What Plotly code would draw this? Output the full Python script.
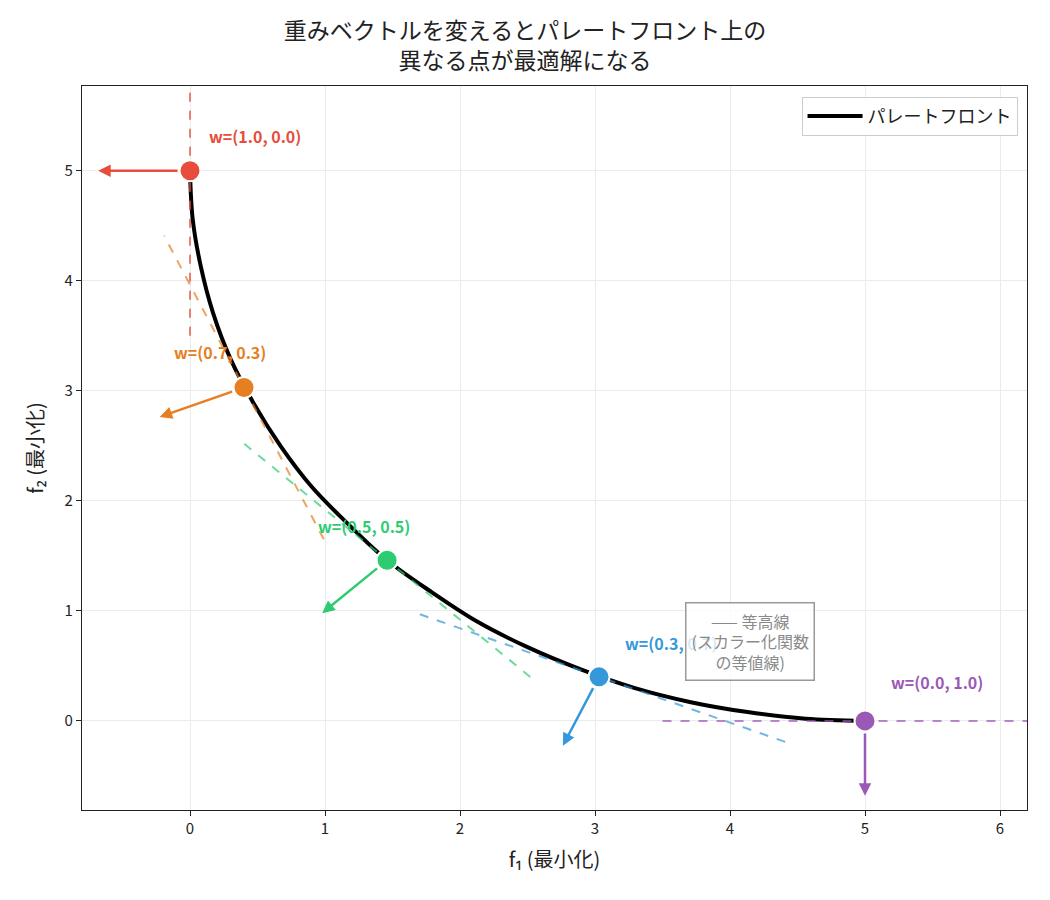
import plotly.graph_objects as go

# Pareto front
front_f1 = [0.00, 0.02, 0.08, 0.17, 0.30, 0.47, 0.67, 0.90, 1.17, 1.46, 1.79, 2.13, 2.50, 2.89, 3.29, 3.71, 4.13, 4.56, 5.00]
front_f2 = [5.00, 4.56, 4.13, 3.71, 3.29, 2.89, 2.50, 2.13, 1.79, 1.46, 1.17, 0.90, 0.67, 0.47, 0.30, 0.17, 0.08, 0.02, 0.00]

# Optimal points for each weight vector
opt_f1 = [0.00, 0.40, 1.46, 3.03, 5.00]
opt_f2 = [5.00, 3.03, 1.46, 0.40, 0.00]
w1 = [1.0, 0.7, 0.5, 0.3, 0.0]
w2 = [0.0, 0.3, 0.5, 0.7, 1.0]
labels = ["w=(1.0, 0.0)", "w=(0.7, 0.3)", "w=(0.5, 0.5)", "w=(0.3, 0.7)", "w=(0.0, 1.0)"]

colors = ["#e74c3c", "#e67e22", "#2ecc71", "#3498db", "#9b59b6"]
label_dx = [0.48, -0.18, -0.17, 0.53, 0.53]
label_dy = [0.32, 0.32, 0.31, 0.31, 0.35]
ARROW_LEN = 0.68
CONTOUR_HALF = 1.5

font_family = "Noto Sans CJK JP, Noto Sans, sans-serif"

fig = go.Figure()

fig.add_trace(go.Scatter(
    x=front_f1, y=front_f2, mode="lines", line=dict(color="black", width=4, shape="spline"),
    name="パレートフロント", showlegend=True))

annotations = []
for i in range(len(opt_f1)):
    n = (w1[i] ** 2 + w2[i] ** 2) ** 0.5
    ux, uy = w1[i] / n, w2[i] / n
    tx, ty = -uy, ux
    fig.add_trace(go.Scatter(
        x=[opt_f1[i] - CONTOUR_HALF * tx, opt_f1[i] + CONTOUR_HALF * tx],
        y=[opt_f2[i] - CONTOUR_HALF * ty, opt_f2[i] + CONTOUR_HALF * ty],
        mode="lines", line=dict(color=colors[i], width=2, dash="dash"),
        opacity=0.7, showlegend=False, hoverinfo="skip"))

for i in range(len(opt_f1)):
    fig.add_trace(go.Scatter(
        x=[opt_f1[i]], y=[opt_f2[i]], mode="markers",
        marker=dict(size=21, color=colors[i], line=dict(color="white", width=2)),
        showlegend=False))
    n = (w1[i] ** 2 + w2[i] ** 2) ** 0.5
    ux, uy = w1[i] / n, w2[i] / n
    annotations.append(dict(
        x=opt_f1[i] - ARROW_LEN * ux, y=opt_f2[i] - ARROW_LEN * uy,
        ax=opt_f1[i], ay=opt_f2[i], xref="x", yref="y", axref="x", ayref="y",
        showarrow=True, arrowhead=2, arrowsize=1.0, arrowwidth=2.5, arrowcolor=colors[i],
        startstandoff=11, text=""))
    annotations.append(dict(
        x=opt_f1[i] + label_dx[i], y=opt_f2[i] + label_dy[i], xref="x", yref="y",
        text="<b>" + labels[i] + "</b>", showarrow=False,
        font=dict(size=16, color=colors[i], family=font_family)))

annotations.append(dict(
    x=4.15, y=0.72, xref="x", yref="y", showarrow=False,
    text="—— 等高線<br>(スカラー化関数<br>の等値線)",
    font=dict(size=16, color="#8a8a8a", family=font_family),
    bgcolor="rgba(255,255,255,0.8)", bordercolor="#999999", borderwidth=1.5, borderpad=5,
    align="center"))

fig.update_layout(
    width=1050, height=900,
    margin=dict(l=82, r=23, t=86, b=90),
    paper_bgcolor="white", plot_bgcolor="white",
    font=dict(family=font_family, size=15, color="#222222"),
    title=dict(text="重みベクトルを変えるとパレートフロント上の<br>異なる点が最適解になる",
               x=0.5, xanchor="center", yref="container", y=1 - 39 / 900, yanchor="middle",
               font=dict(size=23, color="#222222")),
    legend=dict(x=0.99, y=0.985, xanchor="right", yanchor="top",
                bgcolor="rgba(255,255,255,0.9)", bordercolor="#cccccc", borderwidth=1,
                itemwidth=55, font=dict(size=18)),
    annotations=annotations,
)
fig.update_xaxes(range=[-0.8, 6.2], tickvals=[0, 1, 2, 3, 4, 5, 6],
                 showgrid=True, gridcolor="#ebebeb", zeroline=False,
                 showline=True, linecolor="#222222", linewidth=1.2, mirror=True,
                 ticks="outside", ticklen=5, tickcolor="#222222",
                 title=dict(text="f₁ (最小化)", font=dict(size=20)))
fig.update_yaxes(range=[-0.81, 5.77], tickvals=[0, 1, 2, 3, 4, 5],
                 showgrid=True, gridcolor="#ebebeb", zeroline=False,
                 showline=True, linecolor="#222222", linewidth=1.2, mirror=True,
                 ticks="outside", ticklen=5, tickcolor="#222222",
                 title=dict(text="f₂ (最小化)", font=dict(size=20)))

fig.write_html("out.html")
